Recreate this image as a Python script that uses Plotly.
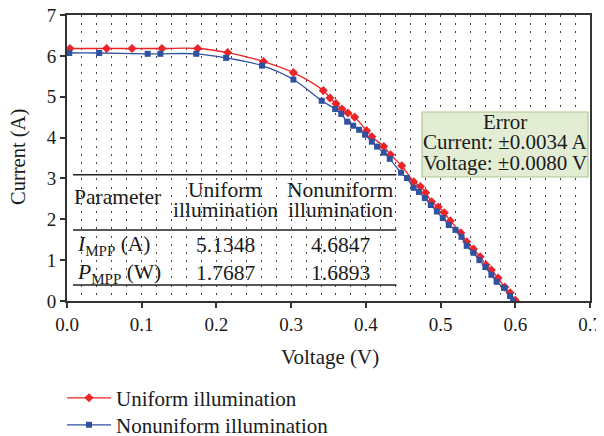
import plotly.graph_objects as go

# ---- data ----
uniform_v = [0.004, 0.053, 0.087, 0.127, 0.175, 0.215, 0.263, 0.303, 0.343, 0.352, 0.360, 0.368,
             0.376, 0.385, 0.401, 0.408, 0.424, 0.433, 0.448, 0.464, 0.473, 0.480, 0.488, 0.497,
             0.505, 0.513, 0.527, 0.535, 0.544, 0.553, 0.561, 0.568, 0.577, 0.586, 0.593, 0.600]
uniform_i = [6.18, 6.18, 6.18, 6.18, 6.18, 6.08, 5.86, 5.59, 5.15, 4.97, 4.83, 4.70,
             4.60, 4.50, 4.17, 4.02, 3.78, 3.58, 3.31, 2.92, 2.80, 2.65, 2.43, 2.30,
             2.16, 1.96, 1.67, 1.45, 1.27, 1.08, 0.88, 0.76, 0.56, 0.34, 0.20, 0.02]

nonuni_v = [0.003, 0.043, 0.108, 0.125, 0.173, 0.213, 0.261, 0.303, 0.341, 0.359, 0.367, 0.375,
            0.383, 0.391, 0.399, 0.408, 0.415, 0.424, 0.432, 0.447, 0.455, 0.464, 0.471, 0.479,
            0.487, 0.495, 0.503, 0.511, 0.520, 0.528, 0.535, 0.544, 0.552, 0.560, 0.568, 0.575,
            0.585, 0.593, 0.597]
nonuni_i = [6.07, 6.07, 6.05, 6.05, 6.05, 5.95, 5.76, 5.42, 4.90, 4.70, 4.58, 4.39,
            4.29, 4.19, 4.07, 3.90, 3.78, 3.63, 3.48, 3.14, 3.01, 2.77, 2.67, 2.52,
            2.35, 2.19, 2.03, 1.86, 1.74, 1.57, 1.35, 1.18, 1.00, 0.83, 0.64, 0.47,
            0.32, 0.12, 0.00]

series_names = ["Uniform illumination", "Nonuniform illumination"]
x_ticks = [0.0, 0.1, 0.2, 0.3, 0.4, 0.5, 0.6, 0.7]
y_ticks = [0, 1, 2, 3, 4, 5, 6, 7]
x_title = "Voltage (V)"
y_title = "Current (A)"

table_col_titles = ["Parameter", "Uniform", "Nonuniform"]
table_col_sub = ["", "illumination", "illumination"]
table_params = ["<i>I</i><sub>MPP</sub> (A)", "<i>P</i><sub>MPP</sub> (W)"]
table_uniform = ["5.1348", "1.7687"]
table_nonuni = ["4.6847", "1.6893"]
error_lines = ["Error", "Current: ±0.0034 A", "Voltage: ±0.0080 V"]

SERIF = "Liberation Serif"
RED = "#ec2327"
BLUE = "#2f51a2"
TXT = "#1a1a1a"

fig = go.Figure()
fig.add_trace(go.Scatter(
    x=uniform_v, y=uniform_i, mode="lines+markers", name=series_names[0],
    line=dict(color=RED, width=1.3, shape="spline"),
    marker=dict(symbol="diamond", size=7, color=RED),
    legend="legend"))
fig.add_trace(go.Scatter(
    x=nonuni_v, y=nonuni_i, mode="lines+markers", name=series_names[1],
    line=dict(color=BLUE, width=1.3, shape="spline"),
    marker=dict(symbol="square", size=6, color=BLUE),
    legend="legend2"))

# ---- parameter table (in data coordinates) ----
for yv in [3.09, 1.74, 0.39]:
    fig.add_shape(type="line", x0=0.008, x1=0.441, y0=yv, y1=yv, xref="x", yref="y",
                  line=dict(color="#222", width=1.5))

tf = dict(family=SERIF, size=21.5, color=TXT)
col_x = [0.068, 0.2115, 0.3654]
fig.add_annotation(x=col_x[0], y=2.545, text=table_col_titles[0], showarrow=False, font=tf)
for c in (1, 2):
    fig.add_annotation(x=col_x[c], y=2.717, text=table_col_titles[c], showarrow=False, font=tf)
    fig.add_annotation(x=col_x[c], y=2.227, text=table_col_sub[c], showarrow=False, font=tf)
for k, yv in enumerate([1.37, 0.685]):
    fig.add_annotation(x=0.011, y=yv, text=table_params[k], showarrow=False, font=tf, xanchor="left")
    fig.add_annotation(x=col_x[1], y=yv, text=table_uniform[k], showarrow=False, font=tf)
    fig.add_annotation(x=col_x[2], y=yv, text=table_nonuni[k], showarrow=False, font=tf)

# ---- error box (paper coordinates) ----
fig.add_shape(type="rect", xref="paper", yref="paper", x0=0.6788, x1=0.9962, y0=0.4336, y1=0.6608,
              fillcolor="#e3edd4", line=dict(color="#adc791", width=1.2), layer="above")
for txt, yp in zip(error_lines, [0.6259, 0.5560, 0.4825]):
    fig.add_annotation(x=0.8375, y=yp, xref="paper", yref="paper", showarrow=False,
                       xanchor="center", yanchor="middle", text=txt,
                       font=dict(family=SERIF, size=21, color=TXT))

# ---- axis titles ----
fig.add_annotation(x=0.5029, y=-0.1958, xref="paper", yref="paper", showarrow=False,
                   xanchor="center", yanchor="middle",
                   text=x_title, font=dict(family=SERIF, size=21, color=TXT))
fig.add_annotation(x=-0.0918, y=0.5035, xref="paper", yref="paper", showarrow=False,
                   xanchor="center", yanchor="middle",
                   text=y_title, textangle=-90, font=dict(family=SERIF, size=20.5, color=TXT))

GRID = dict(showgrid=True, gridcolor="#444", gridwidth=1, griddash="2px,6.17px")
axis_common = dict(
    showline=True, linecolor="#333", linewidth=2, mirror=True,
    ticks="outside", ticklen=5, tickcolor="#333", tickwidth=1.5,
    tickfont=dict(family=SERIF, size=19, color=TXT),
    zeroline=False, automargin=False, ticklabeloverflow="allow",
)
fig.update_xaxes(range=[0, 0.7], tickvals=x_ticks, tickformat=".1f",
                 minor=dict(dtick=0.02, **GRID), **GRID, **axis_common)
fig.update_yaxes(range=[0, 7], tickvals=y_ticks, showgrid=False, **axis_common)

leg_common = dict(xref="container", yref="container", x=0.0906,
                  xanchor="left", yanchor="top", itemwidth=44,
                  font=dict(family=SERIF, size=21, color=TXT), bgcolor="rgba(0,0,0,0)")
fig.update_layout(
    width=596, height=428,
    margin=dict(l=59, r=14, t=7, b=135, autoexpand=False),
    plot_bgcolor="white", paper_bgcolor="white",
    showlegend=True,
    legend=dict(y=0.1363, **leg_common),
    legend2=dict(y=0.0733, **leg_common),
)

fig.write_html("out.html")
